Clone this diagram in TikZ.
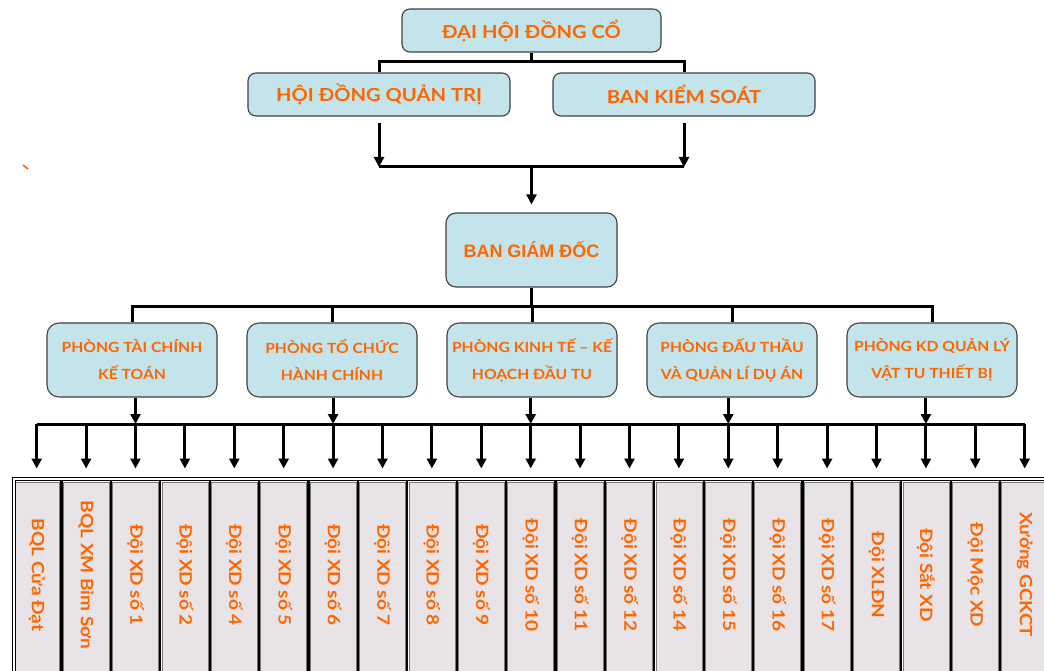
\documentclass[tikz,border=0pt]{standalone}
\usepackage{fontspec}
\usetikzlibrary{arrows.meta}
\newfontfamily\gothic[FakeStretch=1.12]{Lato}
\newfontfamily\arialb{Liberation Sans}
\definecolor{boxblue}{RGB}{194,228,234}
\definecolor{boxline}{RGB}{64,64,64}
\definecolor{orgtxt}{RGB}{255,102,0}
\definecolor{cellgrey}{RGB}{231,227,231}
\definecolor{cellline}{RGB}{120,120,120}
\begin{document}
\begin{tikzpicture}[x=1pt,y=-1pt,
  box/.style={draw=boxline, fill=boxblue, line width=1.1pt, rounded corners=8pt,
    text=orgtxt, align=center, inner sep=0pt},
  topbox/.style={box, minimum width=262pt, minimum height=43pt,
    font=\gothic\bfseries\fontsize{18}{20}\selectfont},
  deptbox/.style={box, rounded corners=12pt, minimum width=170pt, minimum height=74pt,
    font=\gothic\bfseries\fontsize{14}{27}\selectfont},
  conn/.style={line width=3pt, black},
  arr/.style={conn, -{Triangle[width=10pt,length=10pt]}},
  cellbox/.style={draw=cellline, fill=cellgrey, line width=0.8pt, minimum width=46pt,
    minimum height=230pt, anchor=north, inner sep=0pt},
  celltxt/.style={rotate=-90, text=orgtxt, font=\gothic\bfseries\fontsize{17}{19}\selectfont, inner sep=0pt},
  sep/.style={line width=2.2pt, black},
  frame/.style={draw=black, double=white, line width=1.3pt, double distance=2pt,
    anchor=north west, minimum width=1070pt, minimum height=240pt, inner sep=0pt}
]
\useasboundingbox (0,0) rectangle (1044,671);
\clip (0,0) rectangle (1044,671);
\fill[white] (0,0) rectangle (1044,671);

% governing bodies
\node[topbox, minimum width=259pt] (dhdc) at (531.5,30.5) {ĐẠI HỘI ĐỒNG CỔ};
\node[topbox] (hdqt) at (379,94.5) {HỘI ĐỒNG QUẢN TRỊ};
\node[topbox] (bks) at (684,94.5) {BAN KIỂM SOÁT};
\node[box, rounded corners=10pt, minimum width=171pt, minimum height=74pt,
  font=\arialb\bfseries\fontsize{18}{20}\selectfont] (bgd) at (531.5,250) {BAN GIÁM ĐỐC};

\coordinate (j1) at (531.5,62);
\draw[conn] (dhdc.south) -- (j1);
\draw[conn] (hdqt.north) |- (j1) -| (bks.north);

\coordinate (mrg) at (531.5,167);
\draw[arr, shorten <=6pt] (hdqt.south) -- (hdqt.south |- mrg);
\draw[arr, shorten <=6pt] (bks.south) -- (bks.south |- mrg);
\draw[conn] (hdqt.south |- mrg) -- (bks.south |- mrg);
\draw[arr, shorten >=8pt] (mrg) -- (bgd.north);

% departments
\node[deptbox] (d1) at (132,360) {PHÒNG TÀI CHÍNH\\KẾ TOÁN};
\node[deptbox] (d2) at (332,360) {PHÒNG TỔ CHỨC\\HÀNH CHÍNH};
\node[deptbox] (d3) at (532,360) {PHÒNG KINH TẾ – KẾ\\HOẠCH ĐẦU TU};
\node[deptbox] (d4) at (732,360) {PHÒNG ĐẤU THẦU\\VÀ QUẢN LÍ DỤ ÁN};
\node[deptbox] (d5) at (932,360) {PHÒNG KD QUẢN LÝ\\VẬT TU THIẾT BỊ};

\coordinate (j3) at (531.5,306);
\draw[conn] (bgd.south) -- (j3);
\draw[conn] (d1.north) |- (j3) -| (d5.north);
\foreach \d in {d2,d3,d4} \draw[conn] (\d.north) -- (\d.north |- j3);

% units
\coordinate (tl) at (0,575);
\foreach \t [count=\i] in {BQL Cửa Đạt, BQL XM Bỉm Sơn, Đội XD số 1, Đội XD số 2,
  Đội XD số 4, Đội XD số 5, Đội XD số 6, Đội XD số 7, Đội XD số 8, Đội XD số 9,
  Đội XD số 10, Đội XD số 11, Đội XD số 12, Đội XD số 14, Đội XD số 15,
  Đội XD số 16, Đội XD số 17, Đội XLĐN, Đội Sắt XD, Đội Mộc XD, Xưởng GCKCT}{
  \node[cellbox] (c\i) at ({12+49.4*(\i-0.5)},482) {};
  \node[celltxt] (t\i) at (c\i.north |- tl) {\t};
}
\foreach \k in {1,...,20} \draw[sep] ({12+49.4*\k},479) -- ({12+49.4*\k},700);
\node[frame] (table) at (13.3,478.5) {};

\coordinate (bus) at (0,424);
\draw[conn] (c1.north |- bus) -- (c21.north |- bus);
\foreach \i in {1,...,21}
  \draw[arr, shorten >=10pt] (c\i.north |- bus) -- (c\i.north |- table.north);
\draw[arr] (c3.north |- d1.south) -- (c3.north |- bus);
\draw[arr] (c7.north |- d2.south) -- (c7.north |- bus);
\draw[arr] (c11.north |- d3.south) -- (c11.north |- bus);
\draw[arr] (c15.north |- d4.south) -- (c15.north |- bus);
\draw[arr] (c19.north |- d5.south) -- (c19.north |- bus);

% stray mark at left
\draw[orgtxt, line width=1.6pt] (23,165) -- (28,169);
\end{tikzpicture}
\end{document}
